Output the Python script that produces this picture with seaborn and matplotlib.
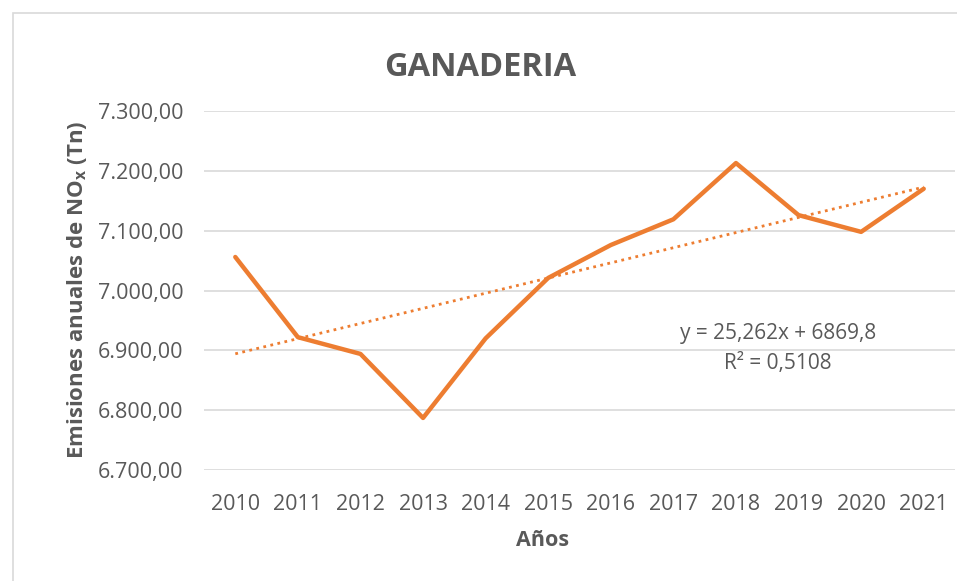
import numpy as np
import pandas as pd
import matplotlib
matplotlib.use("Agg")
import matplotlib.pyplot as plt
import seaborn as sns
from matplotlib.patches import Rectangle
from matplotlib.ticker import FuncFormatter

years = [2010, 2011, 2012, 2013, 2014, 2015, 2016, 2017, 2018, 2019, 2020, 2021]
emissions = [7056, 6922, 6894, 6787, 6920, 7021, 7076, 7119, 7213, 7126, 7098, 7170]
trend_text = ["y = 25,262x + 6869,8", "R² = 0,5108"]
y_ticks = [6700, 6800, 6900, 7000, 7100, 7200, 7300]

sns.set_theme(style="white")
plt.rcParams['font.family'] = ['Open Sans', 'DejaVu Sans']
plt.rcParams['mathtext.fontset'] = 'custom'
plt.rcParams['mathtext.rm'] = 'Open Sans'
plt.rcParams['mathtext.bf'] = 'Open Sans:bold'

W, H = 957, 581
fig = plt.figure(figsize=(W / 100, H / 100), dpi=100)
fig.patch.set_facecolor('white')
# outer chart frame
fig.patches.append(Rectangle((13 / W, -0.1), 1.2, 1 - 13 / H + 0.1, transform=fig.transFigure,
                             fill=False, edgecolor='#d9d9d9', linewidth=1.2))

ax = fig.add_axes([204 / W, 1 - 470 / H, (955 - 204) / W, (470 - 111) / H])
df = pd.DataFrame({"Año": years, "Emisiones": emissions})

orange = '#ED7D31'
idx = np.arange(1, len(years) + 1)
coef = np.polyfit(idx, df["Emisiones"], 1)
trend = np.polyval(coef, idx)

for t in y_ticks:
    ax.axhline(t, color='#d9d9d9', linewidth=1.2, zorder=0)

sns.lineplot(data=df, x="Año", y="Emisiones", ax=ax, color=orange, linewidth=3.2, zorder=3)
ax.plot(years, trend, color=orange, linestyle=(0, (1, 1.6)), linewidth=2.0, zorder=2)

ax.set_xlim(years[0] - 0.5, years[-1] + 0.5)
ax.set_ylim(y_ticks[0], y_ticks[-1])
ax.set_xticks(years)
ax.set_xticklabels([str(y) for y in years])
ax.set_yticks(y_ticks)

def fmt(v, pos):
    s = f"{v:,.2f}"
    return s.replace(",", "X").replace(".", ",").replace("X", ".")
ax.yaxis.set_major_formatter(FuncFormatter(fmt))

for s in ax.spines.values():
    s.set_visible(False)
ax.tick_params(axis='both', length=0, labelsize=15.5, labelcolor='#595959')
ax.tick_params(axis='x', pad=17)
ax.tick_params(axis='y', pad=15)

ax.set_xlabel("Años", fontsize=15.5, fontweight='bold', color='#595959')
ax.xaxis.set_label_coords((543 - 204) / (955 - 204), -(541 - 470) / (470 - 111))
ax.xaxis.label.set_va('center')
ax.set_ylabel(r"Emisiones anuales de NO$_\mathbf{x}$ (Tn)", fontsize=16, fontweight='bold',
              color='#595959')
ax.yaxis.set_label_coords((77 - 204) / (955 - 204), (470 - 290) / (470 - 111))
ax.yaxis.label.set_va('center')

fig.text(480 / W, 1 - 68 / H, "GANADERIA", ha='center', va='center', fontsize=23.5,
         fontweight='bold', color='#595959')

fig.text(778 / W, 1 - 333 / H, trend_text[0], ha='center', va='center', fontsize=15, color='#595959')
fig.text(778 / W, 1 - 363 / H, trend_text[1], ha='center', va='center', fontsize=15, color='#595959')

fig.savefig("out.png", dpi=100, facecolor='white')
